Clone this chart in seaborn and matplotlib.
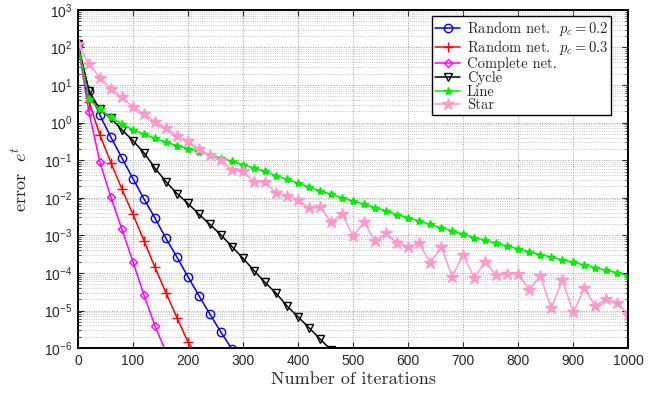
import numpy as np
import matplotlib
matplotlib.use("Agg")
import matplotlib.pyplot as plt
from matplotlib.font_manager import FontProperties
from matplotlib.ticker import LogLocator, FixedLocator, FuncFormatter, NullFormatter
import seaborn as sns

# iterations (a marker every 20 iterations)
iters = list(range(0, 1001, 20))

# log10 of the error
log_rand02 = [2.08, 0.85, 0.20, -0.39, -0.94, -1.49, -2.03, -2.54, -3.08, -3.58,
              -4.10, -4.61, -5.10, -5.58, -6.03, -6.50]
log_rand03 = [2.08, 0.56, -0.33, -1.07, -1.77, -2.44, -3.14, -3.85, -4.53, -5.19,
              -5.84, -6.30]
log_complete = [2.08, 0.29, -1.05, -1.99, -2.84, -3.70, -4.59, -5.41, -6.10]
log_cycle = [2.08, 0.85, 0.35, 0.12, -0.19, -0.48, -0.80, -1.21, -1.57, -1.89,
             -2.15, -2.44, -2.71, -2.99, -3.30, -3.61, -3.94, -4.25, -4.54, -4.88,
             -5.17, -5.46, -5.76, -6.05, -6.35]
log_line = [2.08, 0.62, 0.36, 0.14, -0.04, -0.19, -0.31, -0.42, -0.52, -0.61,
            -0.69, -0.77, -0.86, -0.94, -1.03, -1.12, -1.21, -1.30, -1.41, -1.51,
            -1.61, -1.72, -1.81, -1.91, -2.00, -2.09, -2.17, -2.26, -2.35, -2.45,
            -2.53, -2.62, -2.71, -2.80, -2.88, -2.97, -3.06, -3.13, -3.21, -3.29,
            -3.36, -3.44, -3.51, -3.58, -3.65, -3.72, -3.79, -3.86, -3.93, -4.00,
            -4.07]
log_star = [2.10, 1.56, 1.20, 0.90, 0.67, 0.42, 0.24, 0.02, -0.15, -0.35,
            -0.50, -0.71, -0.86, -0.99, -1.26, -1.30, -1.57, -1.57, -1.88, -1.94,
            -2.06, -2.28, -2.25, -2.65, -2.43, -3.02, -2.65, -3.15, -2.95, -3.20,
            -3.31, -3.21, -3.74, -3.30, -4.10, -3.51, -4.13, -3.70, -4.06, -4.04,
            -4.02, -4.45, -4.07, -4.94, -4.19, -5.05, -4.41, -4.88, -4.69, -4.79,
            -5.12]

labels = ["Random net.  $p_c = 0.2$",
          "Random net.  $p_c = 0.3$",
          "Complete net.",
          "Cycle",
          "Line",
          "Star"]
series = [log_rand02, log_rand03, log_complete, log_cycle, log_line, log_star]

sns.set_style("ticks")
plt.rcParams["mathtext.fontset"] = "custom"
plt.rcParams["mathtext.rm"] = "Liberation Sans"
plt.rcParams["mathtext.it"] = "Liberation Sans:italic"
plt.rcParams["font.family"] = ["Liberation Sans", "DejaVu Sans"]

# computer modern for the labels and legend
cm_font = dict(family="cmr10", math_fontfamily="cm")

fig = plt.figure(figsize=(6.6, 3.96), dpi=100)
ax = fig.add_axes([0.118, 0.121, 0.834, 0.854])

# colour, marker, size, face colour
styles = [
    ("#0000ff", "o", 6, "none"),
    ("#ff0000", "+", 7, "#ff0000"),
    ("#ff00ff", "D", 4.5, "none"),
    ("#000000", "v", 6, "none"),
    ("#00ee00", "*", 6, "#00ee00"),
    ("#ff99cc", "*", 9, "#ff99cc"),
]

for vals, lab, (col, mk, size, face) in zip(series, labels, styles):
    xs = iters[:len(vals)]
    ys = 10.0 ** np.array(vals)
    sns.lineplot(x=xs, y=ys, ax=ax, label=lab, color=col, linewidth=1.1,
                 linestyle="-", estimator=None, marker=mk, markersize=size,
                 markerfacecolor=face, markeredgecolor=col, markeredgewidth=1.0)

ax.set_yscale("log")
ax.set_xlim(0, 1000)
ax.set_ylim(1e-6, 1e3)

ax.xaxis.set_major_locator(FixedLocator(range(0, 1001, 100)))
ax.yaxis.set_major_locator(LogLocator(base=10, numticks=20))
ax.yaxis.set_minor_locator(LogLocator(base=10, subs=np.arange(2, 10), numticks=20))
ax.yaxis.set_minor_formatter(NullFormatter())
ax.yaxis.set_major_formatter(FuncFormatter(lambda v, p: r"$10^{%d}$" % round(np.log10(v))))

ax.tick_params(which="both", direction="in", top=True, right=True, labelsize=10, pad=4)
ax.tick_params(which="major", length=4, width=0.8)
ax.tick_params(which="minor", length=2, width=0.6)
for s in ax.spines.values():
    s.set_linewidth(1.4)
    s.set_color("black")

ax.grid(which="major", axis="both", linestyle=":", color="0.6", lw=0.7)
ax.grid(which="minor", axis="y", linestyle=":", color="0.7", lw=0.6)

ax.set_xlabel("Number of iterations", fontsize=13, labelpad=3,
              fontproperties=FontProperties(size=13, **cm_font))
ax.set_ylabel("error  $e^t$", labelpad=10,
              fontproperties=FontProperties(size=13, **cm_font))

leg = ax.legend(loc="upper right", bbox_to_anchor=(0.969, 0.982), borderaxespad=0,
                fancybox=False, framealpha=1, edgecolor="black", borderpad=0.2,
                labelspacing=0.0, handlelength=1.7, handletextpad=0.45,
                prop=FontProperties(size=10.5, **cm_font))
leg.get_frame().set_linewidth(1.0)

fig.savefig("out.png", dpi=100)
